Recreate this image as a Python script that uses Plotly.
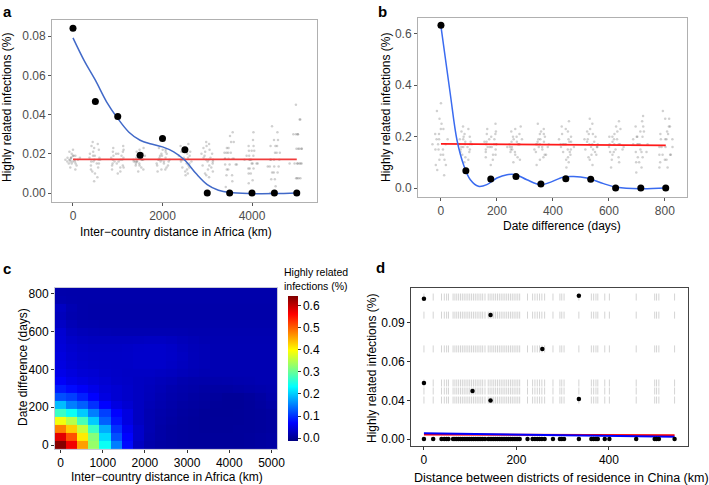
import plotly.graph_objects as go

W, H = 709, 485
def px(x): return x / W
def py(y): return 1 - y / H

# ---------------- Panel a data ----------------
a_dist = [0, 500, 1000, 1500, 2000, 2500, 3000, 3500, 4000, 4500, 5000]
a_obs = [0.084, 0.0467, 0.039, 0.0192, 0.0278, 0.0221, 0.0, 0.0, 0.0, 0.0, 0.0]
a_smooth_x = [0, 250, 500, 750, 1000, 1250, 1500, 1750, 2000, 2250, 2500, 2750, 3000, 3250, 3500, 4000, 4500, 5000]
a_smooth_y = [0.0791, 0.0675, 0.0575, 0.0465, 0.038, 0.031, 0.0269, 0.025, 0.0235, 0.021, 0.0167, 0.0099, 0.0043, 0.0014, 0.0002, -0.0003, -0.0003, 0.0]
a_null_x = [0, 5000]
a_null_y = [0.0171, 0.0171]
a_perm = [
    [0.017,0.016,0.018,0.015,0.019,0.017,0.016,0.018,0.014,0.020,0.017,0.016,0.018,0.015,0.019,0.017,0.013,0.021,0.016,0.018,0.017,0.015,0.019,0.012,0.022],
    [0.017,0.014,0.020,0.012,0.022,0.016,0.018,0.010,0.024,0.015,0.019,0.017,0.013,0.021,0.008,0.026,0.016,0.018,0.011,0.023,0.017,0.015,0.019,0.006,0.025],
    [0.017,0.015,0.019,0.013,0.021,0.016,0.018,0.012,0.022,0.014,0.020,0.017,0.011,0.023,0.016,0.018,0.015,0.019,0.010,0.024,0.017,0.014,0.020,0.013,0.021],
    [0.017,0.016,0.018,0.015,0.019,0.014,0.020,0.013,0.021,0.017,0.016,0.018,0.012,0.022,0.015,0.019,0.017,0.016,0.018,0.014,0.020,0.011,0.023,0.017,0.016],
    [0.017,0.015,0.019,0.014,0.020,0.016,0.018,0.012,0.022,0.017,0.013,0.021,0.015,0.019,0.011,0.023,0.017,0.016,0.018,0.014,0.020,0.017,0.012,0.022,0.016],
    [0.017,0.015,0.019,0.013,0.021,0.016,0.018,0.011,0.023,0.014,0.020,0.017,0.012,0.022,0.010,0.024,0.016,0.018,0.015,0.019,0.017,0.013,0.021,0.009,0.025],
    [0.017,0.014,0.020,0.012,0.022,0.016,0.018,0.010,0.024,0.015,0.019,0.017,0.011,0.023,0.009,0.025,0.016,0.018,0.013,0.021,0.017,0.008,0.026,0.014,0.020],
    [0.0175,0.0145,0.0205,0.012,0.023,0.0175,0.0145,0.0205,0.009,0.026,0.0175,0.012,0.023,0.006,0.029,0.0145,0.0205,0.0175,0.009,0.026,0.0175,0.0145,0.0205,0.003,0.031],
    [0.017,0.015,0.019,0.0125,0.0215,0.010,0.024,0.0065,0.027,0.017,0.015,0.019,0.0125,0.0215,0.017,0.015,0.019,0.010,0.024,0.005,0.031,0.017,0.0125,0.0215,0.015],
    [0.017,0.0135,0.0205,0.0105,0.024,0.007,0.027,0.0035,0.031,0.017,0.0135,0.0205,0.0105,0.024,0.0,0.034,0.017,0.0135,0.0205,0.007,0.027,0.017,0.0105,0.024,0.0135],
    [0.015,0.0225,0.0075,0.030,0.015,0.0225,0.0075,0.030,0.0,0.0375,0.015,0.0225,0.045,0.015,0.0075,0.030,0.0225,0.015,0.0,0.0375,0.015,0.0225,0.0075,0.030,0.015],
]

# ---------------- Panel b data ----------------
b_days = [0, 89, 178, 268, 357, 446, 535, 624, 714, 803]
b_obs = [0.634, 0.0674, 0.035, 0.045, 0.0155, 0.036, 0.034, 0.0, 0.0, 0.0]
b_smooth_x = [0, 33, 57, 81, 105, 134, 164, 200, 236, 268, 307, 355, 390, 438, 474, 521, 581, 629, 712, 803]
b_smooth_y = [0.629, 0.369, 0.188, 0.09, 0.032, 0.0065, 0.013, 0.039, 0.052, 0.052, 0.032, 0.013, 0.022, 0.043, 0.045, 0.039, 0.017, 0.0026, -0.003, 0.0]
b_null_x = [0, 803]
b_null_y = [0.172, 0.166]
b_perm = [
    [0.17,0.15,0.19,0.13,0.21,0.11,0.23,0.09,0.25,0.17,0.15,0.19,0.07,0.27,0.13,0.21,0.05,0.30,0.17,0.15,0.19,0.11,0.23,0.33,0.09],
    [0.17,0.16,0.18,0.14,0.20,0.15,0.19,0.12,0.22,0.17,0.13,0.21,0.16,0.18,0.11,0.23,0.17,0.15,0.19,0.10,0.24,0.17,0.14,0.20,0.16],
    [0.17,0.15,0.19,0.13,0.21,0.16,0.18,0.12,0.22,0.17,0.14,0.20,0.11,0.23,0.16,0.18,0.09,0.25,0.17,0.15,0.19,0.13,0.21,0.17,0.16],
    [0.17,0.16,0.18,0.14,0.20,0.12,0.22,0.17,0.15,0.19,0.10,0.24,0.16,0.18,0.13,0.21,0.17,0.15,0.19,0.11,0.23,0.17,0.14,0.20,0.16],
    [0.17,0.15,0.19,0.13,0.21,0.16,0.18,0.11,0.23,0.17,0.14,0.20,0.12,0.22,0.16,0.18,0.09,0.25,0.17,0.15,0.19,0.13,0.21,0.17,0.16],
    [0.17,0.16,0.18,0.14,0.20,0.12,0.22,0.17,0.15,0.19,0.10,0.24,0.16,0.18,0.13,0.21,0.08,0.26,0.17,0.15,0.19,0.11,0.23,0.17,0.14],
    [0.17,0.15,0.19,0.13,0.21,0.16,0.18,0.11,0.23,0.17,0.14,0.20,0.12,0.22,0.16,0.18,0.09,0.25,0.17,0.15,0.19,0.13,0.21,0.27,0.16],
    [0.17,0.14,0.20,0.12,0.22,0.16,0.18,0.10,0.24,0.17,0.15,0.19,0.08,0.26,0.13,0.21,0.17,0.15,0.19,0.11,0.23,0.17,0.14,0.20,0.16],
    [0.17,0.14,0.20,0.12,0.22,0.10,0.24,0.17,0.14,0.20,0.08,0.26,0.17,0.12,0.22,0.15,0.19,0.06,0.28,0.17,0.14,0.20,0.10,0.24,0.17],
    [0.16,0.13,0.19,0.11,0.21,0.08,0.24,0.16,0.13,0.19,0.27,0.10,0.22,0.16,0.30,0.13,0.19,0.08,0.24,0.16,0.11,0.21,0.27,0.13,0.19],
]

# ---------------- Panel c data ----------------
c_dist = [0, 263, 526, 789, 1053, 1316, 1579, 1842, 2105, 2368, 2632, 2895, 3158, 3421, 3684, 3947, 4211, 4474, 4737, 5000]
c_days = [0, 43, 85, 128, 171, 213, 256, 298, 341, 384, 426, 469, 512, 554, 597, 640, 682, 725, 767, 810]
c_z = [
    [0.64,0.57,0.46,0.33,0.24,0.15,0.075,0.03,0.015,0.01,0.008,0.006,0.005,0.005,0.005,0.005,0.005,0.006,0.008,0.01],
    [0.58,0.51,0.41,0.32,0.21,0.12,0.07,0.035,0.018,0.012,0.008,0.006,0.005,0.005,0.005,0.005,0.005,0.006,0.008,0.01],
    [0.48,0.43,0.36,0.27,0.18,0.10,0.06,0.035,0.02,0.012,0.008,0.006,0.005,0.004,0.004,0.004,0.005,0.005,0.006,0.008],
    [0.39,0.35,0.28,0.20,0.13,0.08,0.05,0.03,0.02,0.014,0.01,0.007,0.005,0.004,0.004,0.004,0.004,0.005,0.006,0.008],
    [0.27,0.24,0.20,0.15,0.11,0.07,0.05,0.03,0.02,0.015,0.012,0.008,0.006,0.004,0.003,0.003,0.004,0.005,0.006,0.008],
    [0.19,0.15,0.13,0.10,0.07,0.05,0.04,0.03,0.022,0.018,0.014,0.01,0.008,0.006,0.004,0.003,0.003,0.005,0.008,0.012],
    [0.12,0.11,0.09,0.07,0.05,0.04,0.035,0.03,0.025,0.02,0.016,0.013,0.01,0.008,0.006,0.004,0.004,0.006,0.01,0.015],
    [0.085,0.075,0.065,0.055,0.045,0.04,0.035,0.03,0.026,0.022,0.018,0.015,0.013,0.011,0.01,0.01,0.012,0.014,0.016,0.018],
    [0.065,0.055,0.05,0.045,0.04,0.035,0.033,0.03,0.028,0.025,0.022,0.018,0.016,0.015,0.015,0.016,0.017,0.018,0.02,0.02],
    [0.055,0.048,0.042,0.04,0.036,0.034,0.032,0.032,0.032,0.03,0.028,0.025,0.022,0.02,0.02,0.02,0.02,0.02,0.02,0.02],
    [0.05,0.042,0.038,0.035,0.034,0.033,0.033,0.035,0.035,0.035,0.032,0.028,0.024,0.022,0.02,0.02,0.02,0.02,0.02,0.02],
    [0.048,0.04,0.036,0.034,0.033,0.033,0.034,0.036,0.036,0.036,0.034,0.03,0.025,0.022,0.02,0.02,0.02,0.02,0.02,0.02],
    [0.045,0.038,0.034,0.032,0.032,0.032,0.033,0.035,0.036,0.036,0.033,0.028,0.024,0.022,0.02,0.02,0.02,0.02,0.02,0.02],
    [0.042,0.034,0.03,0.028,0.028,0.028,0.028,0.029,0.03,0.03,0.028,0.025,0.022,0.02,0.019,0.019,0.019,0.019,0.019,0.019],
    [0.04,0.028,0.024,0.022,0.021,0.02,0.02,0.02,0.02,0.02,0.02,0.019,0.018,0.018,0.018,0.018,0.018,0.018,0.018,0.018],
    [0.032,0.022,0.018,0.017,0.016,0.016,0.016,0.016,0.016,0.016,0.016,0.016,0.016,0.016,0.016,0.016,0.016,0.016,0.016,0.016],
    [0.026,0.018,0.015,0.014,0.014,0.014,0.014,0.014,0.014,0.014,0.014,0.014,0.014,0.014,0.014,0.014,0.014,0.014,0.014,0.014],
    [0.03,0.02,0.015,0.014,0.014,0.014,0.014,0.014,0.014,0.014,0.014,0.014,0.014,0.014,0.014,0.014,0.014,0.014,0.014,0.014],
    [0.018,0.016,0.015,0.015,0.015,0.015,0.015,0.015,0.015,0.015,0.015,0.015,0.015,0.015,0.015,0.015,0.015,0.015,0.015,0.015],
    [0.016,0.015,0.015,0.015,0.015,0.015,0.015,0.015,0.015,0.015,0.015,0.015,0.015,0.015,0.015,0.015,0.015,0.015,0.015,0.015],
]

# ---------------- Panel d data ----------------
d_dist = [0, 20, 38, 44, 49, 53, 63, 67, 71, 75, 79, 83, 87, 91, 95, 99, 103, 107, 111, 115, 119, 123, 127, 132,
          139, 143, 147, 151, 155, 159, 163, 167, 171, 175, 179, 183, 187, 191, 195, 199, 203, 207,
          224, 235, 240, 245, 250, 255, 261, 279, 294, 298, 303, 335, 362, 367, 372, 376, 391, 401, 459, 499, 503, 508, 542]
d_levels = [0.110, 0.096, 0.0698, 0.0434, 0.0372, 0.0302]
d_hit_x = [0, 0, 105, 144, 144, 256, 335, 335]
d_hit_y = [0.1087, 0.0434, 0.0372, 0.096, 0.0298, 0.0698, 0.111, 0.031]
d_null_x = [0, 542]
d_null_y = [0.0035, 0.0030]
d_fit_x = [0, 542]
d_fit_y = [0.0045, 0.0017]
d_ytick_vals = [0, 0.03, 0.06, 0.09]
d_ytick_text = ["0.00", "0.04", "0.06", "0.09"]

FONT = "Liberation Sans, Arial, Helvetica, sans-serif"
GRAY_PT = "rgba(110,110,110,0.32)"

fig = go.Figure()

# ---- a ----
fig.add_trace(go.Box(
    x=[c for c, vals in zip(a_dist, a_perm) for _ in vals],
    y=[v for vals in a_perm for v in vals],
    boxpoints="all", jitter=1, pointpos=0, whiskerwidth=0,
    fillcolor="rgba(0,0,0,0)", line=dict(width=0, color="rgba(0,0,0,0)"),
    marker=dict(size=2.5, color=GRAY_PT), xaxis="x", yaxis="y", showlegend=False, hoverinfo="skip"))
fig.add_trace(go.Scatter(x=a_null_x, y=a_null_y, mode="lines", line=dict(color="#F03C3C", width=1.8),
                         xaxis="x", yaxis="y", showlegend=False))
fig.add_trace(go.Scatter(x=a_smooth_x, y=a_smooth_y, mode="lines", line=dict(color="#4169C8", width=1.5, shape="spline"),
                         xaxis="x", yaxis="y", showlegend=False))
fig.add_trace(go.Scatter(x=a_dist, y=a_obs, mode="markers", marker=dict(color="black", size=7),
                         xaxis="x", yaxis="y", showlegend=False))

# ---- b ----
fig.add_trace(go.Box(
    x=[c for c, vals in zip(b_days, b_perm) for _ in vals],
    y=[v for vals in b_perm for v in vals],
    boxpoints="all", jitter=1, pointpos=0, whiskerwidth=0,
    fillcolor="rgba(0,0,0,0)", line=dict(width=0, color="rgba(0,0,0,0)"),
    marker=dict(size=2.5, color=GRAY_PT), xaxis="x2", yaxis="y2", showlegend=False, hoverinfo="skip"))
fig.add_trace(go.Scatter(x=b_null_x, y=b_null_y, mode="lines", line=dict(color="#FF1A1A", width=1.8),
                         xaxis="x2", yaxis="y2", showlegend=False))
fig.add_trace(go.Scatter(x=b_smooth_x, y=b_smooth_y, mode="lines", line=dict(color="#3A6BF0", width=1.5, shape="spline"),
                         xaxis="x2", yaxis="y2", showlegend=False))
fig.add_trace(go.Scatter(x=b_days, y=b_obs, mode="markers", marker=dict(color="black", size=7),
                         xaxis="x2", yaxis="y2", showlegend=False))

# ---- c ----
jet = [[0, "#00007F"], [0.125, "#0000FF"], [0.375, "#00FFFF"], [0.625, "#FFFF00"], [0.875, "#FF0000"], [1, "#7F0000"]]
fig.add_trace(go.Heatmap(
    x=c_dist, y=c_days, z=c_z, colorscale=jet, zmin=-0.013, zmax=0.644,
    xaxis="x3", yaxis="y3",
    colorbar=dict(x=px(288), xanchor="left", y=py(368.5), yanchor="middle",
                  thickness=10, len=145, lenmode="pixels", xpad=0, ypad=0, outlinewidth=0,
                  tickvals=[0, 0.1, 0.2, 0.3, 0.4, 0.5, 0.6], ticktext=["0.0", "0.1", "0.2", "0.3", "0.4", "0.5", "0.6"],
                  ticks="outside", ticklen=3, tickcolor="#333", tickfont=dict(size=12, color="black", family=FONT))))

# ---- d ----
fig.add_trace(go.Scatter(
    x=[x for _ in d_levels for x in d_dist], y=[lv for lv in d_levels for _ in d_dist],
    mode="markers", marker=dict(symbol="line-ns-open", size=5, color="#d4d4d4", line=dict(width=1, color="#d4d4d4")),
    xaxis="x4", yaxis="y4", showlegend=False, hoverinfo="skip"))
fig.add_trace(go.Scatter(x=d_null_x, y=d_null_y, mode="lines", line=dict(color="red", width=2),
                         xaxis="x4", yaxis="y4", showlegend=False))
fig.add_trace(go.Scatter(x=d_fit_x, y=d_fit_y, mode="lines", line=dict(color="blue", width=2),
                         xaxis="x4", yaxis="y4", showlegend=False))
fig.add_trace(go.Scatter(x=d_dist, y=[0] * len(d_dist), mode="markers", marker=dict(color="black", size=4.5),
                         xaxis="x4", yaxis="y4", showlegend=False))
fig.add_trace(go.Scatter(x=d_hit_x, y=d_hit_y, mode="markers", marker=dict(color="black", size=4.5),
                         xaxis="x4", yaxis="y4", showlegend=False))

tick_a = dict(ticks="outside", ticklen=3, tickcolor="#555", showline=True, mirror=True, linecolor="#b0b0b0",
              linewidth=1, showgrid=False, zeroline=False, automargin=False,
              tickfont=dict(size=12, color="#4d4d4d", family=FONT))
tick_c = dict(ticks="outside", ticklen=3, tickcolor="#333", showline=True, mirror=True, linecolor="#c8c8d8",
              linewidth=1, showgrid=False, zeroline=False, automargin=False,
              tickfont=dict(size=12, color="black", family=FONT))
tick_d = dict(ticks="outside", ticklen=3, tickcolor="#333", showline=True, mirror=True, linecolor="#444",
              linewidth=1, showgrid=False, zeroline=False, automargin=False,
              tickfont=dict(size=12, color="black", family=FONT))

fig.update_layout(
    width=W, height=H, margin=dict(l=0, r=0, t=0, b=0), autosize=False,
    paper_bgcolor="white", plot_bgcolor="white", boxgap=0.0,
    font=dict(family=FONT, color="black"),
    xaxis=dict(domain=[px(52), px(317)], range=[-469, 5452], tickvals=[0, 2000, 4000], anchor="y", **tick_a),
    yaxis=dict(domain=[py(202), py(20)], range=[-0.00459, 0.0882], tickvals=[0, 0.02, 0.04, 0.06, 0.08],
               tickformat=".2f", anchor="x", **tick_a),
    xaxis2=dict(domain=[px(418), px(687)], range=[-82, 879], tickvals=[0, 200, 400, 600, 800], anchor="y2", **tick_a),
    yaxis2=dict(domain=[py(197), py(18)], range=[-0.035, 0.662], tickvals=[0, 0.2, 0.4, 0.6],
                tickformat=".1f", anchor="x2", **tick_a),
    xaxis3=dict(domain=[px(55), px(277)], range=[-131, 5131], tickvals=[0, 1000, 2000, 3000, 4000, 5000], anchor="y3", **tick_c),
    yaxis3=dict(domain=[py(449), py(288)], range=[-21, 831], tickvals=[0, 200, 400, 600, 800], anchor="x3", **tick_c),
    xaxis4=dict(domain=[px(411), px(688)], range=[-28, 571], tickvals=[0, 200, 400], anchor="y4", **tick_d),
    yaxis4=dict(domain=[py(446), py(288)], range=[-0.0054, 0.117], tickvals=d_ytick_vals, ticktext=d_ytick_text,
                anchor="x4", **tick_d),
)

def ann(text, x, y, size=12, angle=0, bold=False, xanchor="center", yanchor="middle", color="black", align="center"):
    fig.add_annotation(text=f"<b>{text}</b>" if bold else text, x=px(x), y=py(y), xref="paper", yref="paper",
                       showarrow=False, textangle=angle, xanchor=xanchor, yanchor=yanchor, align=align,
                       borderpad=0, font=dict(size=size, color=color, family=FONT))

# panel letters
ann("a", 2, 11, size=15, bold=True, xanchor="left")
ann("b", 377, 11, size=15, bold=True, xanchor="left")
ann("c", 2, 268, size=15, bold=True, xanchor="left")
ann("d", 375, 267, size=15, bold=True, xanchor="left")

# axis titles
ann("Highly related infections (%)", 7, 108, size=12, angle=-90)
ann("Inter−country distance in Africa (km)", 176, 232, size=12)
ann("Highly related infections (%)", 386, 108, size=12, angle=-90)
ann("Date difference (days)", 562, 226, size=12)
ann("Date difference (days)", 23, 367, size=12, angle=-90)
ann("Inter−country distance in Africa (km)", 167, 477, size=12)
ann("Highly related infections (%)", 372, 369, size=12, angle=-90)
ann("Distance between districts of residence in China (km)", 561, 478, size=12.5)
ann("Highly related<br>infections (%)", 283, 293, size=10.5, xanchor="left", yanchor="bottom", align="left")

fig.write_html("out.html", config={"responsive": False, "displayModeBar": False},
               post_script="document.body.style.margin='0';document.body.style.padding='0';")
